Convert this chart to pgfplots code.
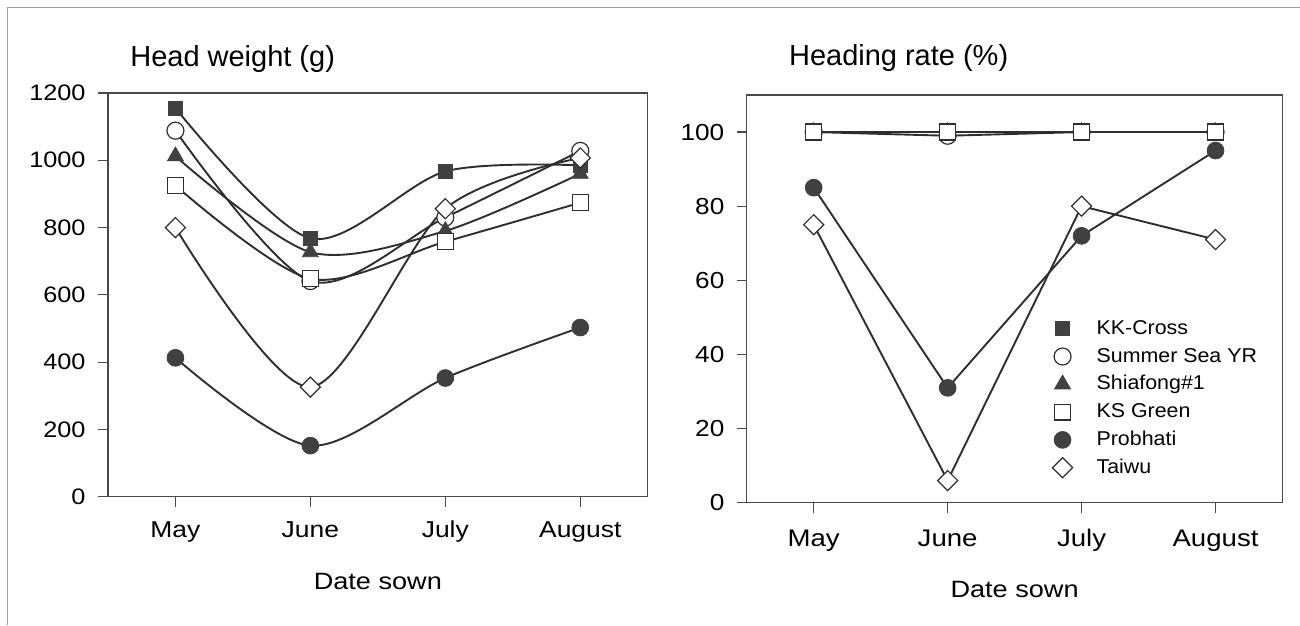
\documentclass[border=0pt]{standalone}
\usepackage{fontspec}
\setmainfont{Liberation Sans}
\newfontfamily\tickface[FakeStretch=1.13]{Liberation Sans}
\newfontfamily\midface[FakeStretch=1.15]{Liberation Sans}
\newfontfamily\legface[FakeStretch=1.07]{Liberation Sans}
\usepackage{pgfplots}
\pgfplotsset{compat=1.18}

\definecolor{ink}{HTML}{2E2E2E}
\definecolor{markfill}{HTML}{404040}
\definecolor{axisgray}{HTML}{4A4A4A}
\definecolor{framegray}{HTML}{A0A0A0}

\pgfplotsset{
  panel/.style={
    scale only axis,
    xmin=-0.5, xmax=3.5, ymin=0,
    xtick={0,1,2,3},
    xticklabels={May,June,July,August},
    tick align=outside,
    xtick pos=bottom, ytick pos=left,
    major tick length=5bp,
    axis line style={axisgray, line width=0.6bp},
    every tick/.style={axisgray, line width=0.6bp},
    /pgf/number format/assume math mode=true,
    /pgf/number format/1000 sep={},
    yticklabel style={anchor=east, inner sep=0pt, xshift=-6bp},
    xticklabel style={anchor=base, inner sep=0pt},
    xlabel style={at={(axis description cs:0.5,0)}, anchor=base, inner sep=0pt,
                  font=\midface\fontsize{11.8bp}{14bp}\selectfont},
    xlabel={Date sown},
    clip=false,
    set layers, mark layer=axis foreground,
  },
  ln/.style={ink, line width=0.95bp},
  kk/.style={ln, mark=square*, mark size=3.5bp,
             mark options={fill=markfill, draw=markfill, line width=0.4bp}},
  ss/.style={ln, mark=*, mark size=4.25bp,
             mark options={fill=white, draw=ink, line width=0.6bp}},
  sf/.style={ln, mark=triangle*, mark size=4.6bp,
             mark options={fill=markfill, draw=markfill, line width=0.4bp}},
  ks/.style={ln, mark=square*, mark size=4bp,
             mark options={fill=white, draw=ink, line width=0.6bp}},
  pb/.style={ln, mark=*, mark size=4.2bp,
             mark options={fill=markfill, draw=markfill, line width=0.4bp}},
  tw/.style={ln, mark=square*, mark size=3.55bp,
             mark options={fill=white, draw=ink, line width=0.6bp, rotate=45}},
}

\begin{document}
\begin{tikzpicture}
\path (0,0) rectangle (650bp,-312.5bp);
\draw[framegray, line width=0.5bp] (650bp,-4bp) -- (4bp,-4bp) -- (4bp,-312.5bp);

% Head weight, smoothed curves
\begin{axis}[panel,
  at={(54bp,-248.5bp)}, anchor=south west,
  width=270bp, height=202bp,
  ymax=1200, ytick={0,200,...,1200},
  yticklabel style={font=\tickface\fontsize{11.2bp}{13bp}\selectfont},
  xticklabel style={font=\midface\fontsize{11.5bp}{14bp}\selectfont, yshift=-15.5bp},
  xlabel style={yshift=-46.5bp},
]
\addplot[kk, smooth] coordinates {(0,1155) (1,768) (2,967) (3,985)};
\addplot[ss, smooth] coordinates {(0,1088) (1,641) (2,830) (3,1028)};
\addplot[sf, smooth] coordinates {(0,1012) (1,727) (2,790) (3,960)};
\addplot[ks, smooth] coordinates {(0,925) (1,648) (2,758) (3,874)};
\addplot[pb, smooth] coordinates {(0,413) (1,152) (2,353) (3,503)};
\addplot[tw, smooth] coordinates {(0,800) (1,326) (2,856) (3,1007)};
\end{axis}

% Heading rate, straight segments
\begin{axis}[panel,
  at={(373.5bp,-251.5bp)}, anchor=south west,
  width=268bp, height=204bp,
  ymax=110, ytick={0,20,...,100},
  yticklabel style={font=\tickface\fontsize{11.6bp}{13bp}\selectfont},
  xticklabel style={font=\midface\fontsize{12bp}{14bp}\selectfont, yshift=-17bp},
  xlabel style={yshift=-47.5bp},
  legend cell align=left,
  legend style={draw=none, fill=none, inner sep=0pt,
    at={(axis description cs:0.57,0.456)}, anchor=north west,
    font=\legface\fontsize{10bp}{12bp}\selectfont,
    row sep=2.4bp,
    nodes={inner sep=1bp, text height=7.5bp, text depth=2bp},
    /tikz/every odd column/.append style={column sep=11bp}},
]
\addplot[kk, forget plot] coordinates {(0,100) (1,100) (2,100) (3,100)};
\addplot[ss, forget plot] coordinates {(0,100) (1,99) (2,100) (3,100)};
\addplot[sf, forget plot] coordinates {(0,100) (1,100) (2,100) (3,100)};
\addplot[ks, forget plot] coordinates {(0,100) (1,100) (2,100) (3,100)};
\addplot[pb, forget plot] coordinates {(0,85) (1,31) (2,72) (3,95)};
\addplot[tw, forget plot] coordinates {(0,75) (1,6) (2,80) (3,71)};
\addlegendimage{kk, only marks}\addlegendentry{KK-Cross}
\addlegendimage{ss, only marks}\addlegendentry{Summer Sea YR}
\addlegendimage{sf, only marks}\addlegendentry{Shiafong\#1}
\addlegendimage{ks, only marks}\addlegendentry{KS Green}
\addlegendimage{pb, only marks}\addlegendentry{Probhati}
\addlegendimage{tw, only marks}\addlegendentry{Taiwu}
\end{axis}

\node[anchor=base west, inner sep=0pt, font=\fontsize{14.5bp}{17bp}\selectfont]
  at (65bp,-33.5bp) {Head weight (g)};
\node[anchor=base west, inner sep=0pt, font=\fontsize{14.5bp}{17bp}\selectfont]
  at (394.5bp,-32.75bp) {Heading rate (\%)};
\end{tikzpicture}
\end{document}
